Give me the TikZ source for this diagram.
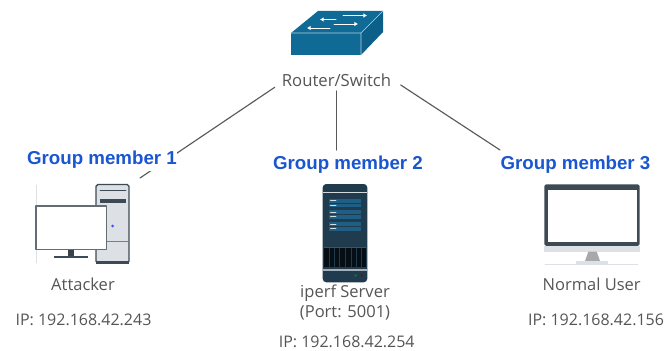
\documentclass[tikz,border=0pt]{standalone}
\usepackage{fontspec}
\setmainfont{Open Sans}
\newfontfamily\memberfont{Liberation Sans}
\usetikzlibrary{arrows.meta}
\definecolor{switchblue}{HTML}{0F6A96}
\definecolor{switchdark}{HTML}{0C5F88}
\definecolor{labelgray}{HTML}{555555}
\definecolor{memberblue}{HTML}{1A56D0}
\definecolor{linegray}{HTML}{595959}
\definecolor{pcdark}{HTML}{3D4954}
\definecolor{pclight}{HTML}{DDE1E5}
\definecolor{serverdark}{HTML}{1F3B4D}
\definecolor{serverblue}{HTML}{1F5F85}
\tikzset{
    txt/.style={inner sep=0pt, text=labelgray, font=\fontsize{9.1}{11}\selectfont},
    member/.style={inner sep=0pt, fill=white, text=memberblue, font=\memberfont\bfseries\fontsize{10.65}{13}\selectfont, minimum height=24*0.02cm},
    link/.style={linegray, line width=0.65pt},
    flow/.style={white, line width=0.55pt, -{Latex[length=2pt,width=2.5pt]}},
}

\begin{document}
\begin{tikzpicture}[x=0.02cm, y=-0.02cm, line cap=round, line join=round]
    \useasboundingbox (0,0) rectangle (665,351);

    % connector ends
    \coordinate (leftTop) at (274.7,87.3);
    \coordinate (leftEnd) at (140,178);
    \coordinate (midTop) at (336.7,91);
    \coordinate (midEnd) at (336.7,150);
    \coordinate (rightTop) at (400.7,85);
    \coordinate (rightEnd) at (500,150);

    % connectors
    \draw[link] (leftTop) -- (leftEnd);
    \draw[link] (midTop) -- (midEnd);
    \draw[link] (rightTop) -- (rightEnd);

    % router/switch icon
    \fill[switchblue] (291,33) -- (318,11) -- (383,11) -- (361,33) -- cycle;
    \fill[switchblue] (291,33) rectangle (361,55);
    \fill[switchdark] (361,33) -- (383,11) -- (383,32) -- (361,55) -- cycle;
    \draw[white!70!switchblue, line width=0.3pt] (291,33) -- (361,33) -- (383,11) (361,33) -- (361,55);
    \draw[flow] (343,15.5) -- (367,15.5);
    \draw[flow] (336,19.5) -- (320,19.5);
    \draw[flow] (334,24) -- (358,24);
    \draw[flow] (330,28) -- (307,28);

    % attacker icon
    \draw[pclight, line width=0.4pt] (36,185) -- (36,263);
    \draw[pcdark, fill=pclight, line width=0.8pt, rounded corners=1pt] (96,184.5) rectangle (129,263);
    \fill[pcdark] (96,261) rectangle (129,263.5);
    \draw[pcdark, line width=0.5pt] (100,190.5) -- (126,190.5);
    \fill[pcdark] (100,198.5) rectangle (126,202.5);
    \draw[pcdark!70, line width=0.4pt] (96,241) -- (129,241);
    \fill[blue!70!white] (112.7,226) circle (1.5);
    \draw[pcdark!80, fill=white, line width=0.8pt] (36,206) rectangle (106.5,249.5);
    \fill[pcdark!90!black] (68,249.5) rectangle (74,257);
    \fill[pcdark] (54,256) rectangle (88,257.5);

    % server icon
    \fill[serverdark, rounded corners=2pt] (322.7,184) rectangle (367.3,282.3);
    \fill[white!80!serverdark] (322.7,192) rectangle (367.3,193.3);
    \foreach \panelY in {198.7,210,222.3} {
        \fill[serverblue] (329.3,\panelY) rectangle (360.7,\panelY+8.7);
        \draw[white!80!serverblue, line width=0.5pt] (330.5,\panelY+2) -- (336,\panelY+2);
        \draw[white!80!serverblue, line width=0.5pt] (330.5,\panelY+6.5) -- (336,\panelY+6.5);
        \draw[serverdark, line width=0.3pt] (329.3,\panelY+4.3) -- (360.7,\panelY+4.3);
    }
    \fill[black!85!serverblue] (324,248.3) rectangle (366,267.3);
    \draw[serverblue, line width=0.4pt] (324,247.5) -- (366,247.5);
    \foreach \gridX in {329,334,339,345,351,356,361} {
        \draw[serverdark, line width=0.3pt] (\gridX,248.3) -- (\gridX,267.3);
    }
    \fill[white!60!serverdark] (322.7,268.7) rectangle (367.3,271.3);
    \fill[green!50!black] (355.7,275.3) circle (1.5);
    \fill[red!60!black] (361.7,275.3) circle (1.5);

    % normal user icon
    \fill[pcdark, rounded corners=1pt] (544.3,184.3) rectangle (639.7,246);
    \fill[white] (547.7,190) rectangle (636.7,241.7);
    \fill[pclight] (544.3,245.7) rectangle (639.7,251.7);
    \fill[black!25!pclight] (588.3,251.7) -- (596.7,251.7) -- (600,261) -- (585,261) -- cycle;
    \fill[pclight] (576,261) rectangle (608,264);
    \draw[pclight, line width=0.4pt] (545,264) -- (638,264);

    % labels
    \node[txt, font=\fontsize{9.5}{11}\selectfont] (router) at (336.5,80) {Router/Switch};
    \node[member] (member1) at (102,159.5) {Group member 1};
    \node[member] (member2) at (348,165) {Group member 2};
    \node[member] (member3) at (575.5,165) {Group member 3};
    \node[txt, font=\fontsize{9.4}{11}\selectfont] (attacker) at (83,284) {Attacker};
    \node[txt] (attackerip) at (83.5,320) {IP: 192.168.42.243};
    \node[txt, font=\fontsize{9.4}{11}\selectfont] (server) at (345,293) {iperf Server};
    \node[txt, font=\fontsize{9.4}{11}\selectfont] (serverport) at (345,313) {(Port: 5001)};
    \node[txt] (serverip) at (346.7,342) {IP: 192.168.42.254};
    \node[txt, font=\fontsize{9.4}{11}\selectfont] (user) at (591.7,284) {Normal User};
    \node[txt] (userip) at (596,320) {IP: 192.168.42.156};
\end{tikzpicture}
\end{document}
